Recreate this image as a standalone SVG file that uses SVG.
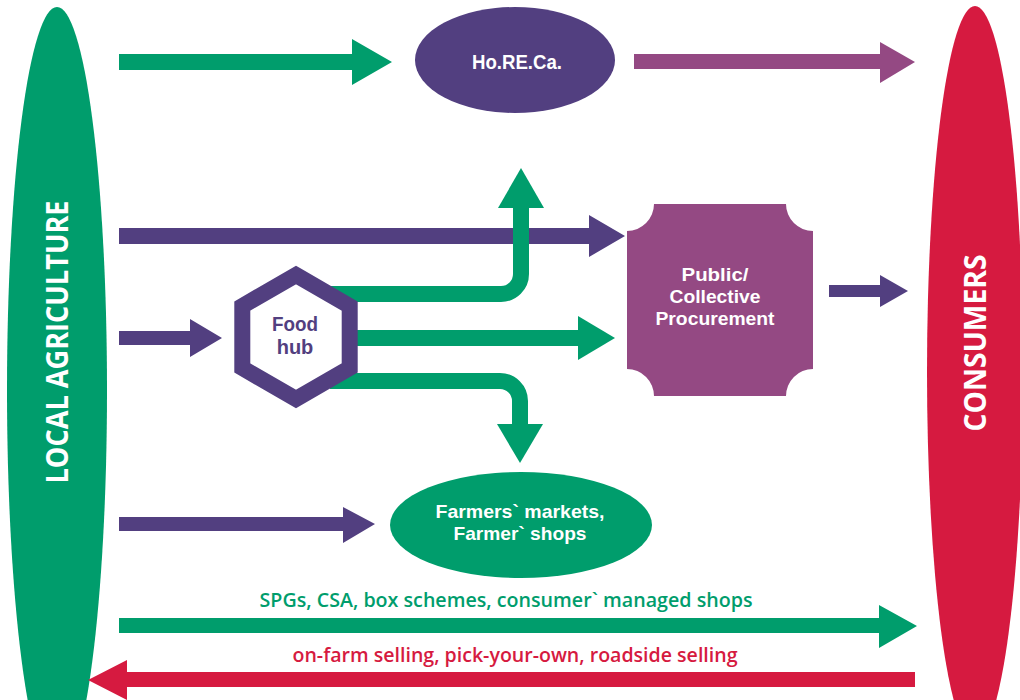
<svg xmlns="http://www.w3.org/2000/svg" width="1020" height="700" viewBox="0 0 1020 700">
<style>
.lbl{font-family:"Liberation Sans","Open Sans",sans-serif;font-weight:700;fill:#fff;text-anchor:middle}
.big{font-family:"Open Sans","Liberation Sans",sans-serif;font-weight:700;fill:#fff;text-anchor:middle;font-size:30px}
.cap{font-family:"Open Sans","Liberation Sans",sans-serif;font-weight:600;text-anchor:middle;font-size:19px}
.g{fill:#009d6c}.p{fill:#523f80}.m{fill:#944983}.r{fill:#d61a40}
.gs{stroke:#009d6c;fill:none;stroke-width:16}
</style>
<rect width="1020" height="700" fill="#fff"/>
<g id="local-agriculture">
<ellipse cx="57" cy="390" rx="50" ry="383" class="g"/>
<text class="big" transform="translate(68,342) rotate(-90)" textLength="283" lengthAdjust="spacingAndGlyphs">LOCAL AGRICULTURE</text>
</g>
<g id="consumers">
<ellipse cx="975" cy="372" rx="48" ry="366" class="r"/>
<text class="big" transform="translate(986,343) rotate(-90)" textLength="177" lengthAdjust="spacingAndGlyphs">CONSUMERS</text>
</g>
<g id="connectors">
<path class="g" d="M119 54H352V39L392 62L352 85V70H119Z"/>
<path class="m" d="M634 54H880V42L915 62L880 83V69H634Z"/>
<path class="p" d="M119 228H589V215L625 236L589 257V244H119Z"/>
<path class="p" d="M829 285H880V275L908 291L880 307V297H829Z"/>
<path class="p" d="M119 331H190V319L222 338L190 357V345H119Z"/>
<path class="p" d="M119 517H343V507L375 524L343 543V531H119Z"/>
<path class="g" d="M119 618H879V605L917 626L879 648V633H119Z"/>
<path class="r" d="M915 672H127V660L88 680L127 700V687H915Z"/>
<path class="gs" d="M330 294H501A20 20 0 0 0 521 274V206"/>
<polygon class="g" points="498,208 544,208 521,168"/>
<path class="gs" d="M330 338H580"/>
<polygon class="g" points="578,316 578,360 615,338"/>
<path class="gs" d="M330 381H500A20 20 0 0 1 520 401V426"/>
<polygon class="g" points="497,424 543,424 520,463"/>
</g>
<g id="horeca">
<ellipse cx="515" cy="60" rx="100" ry="53" class="p"/>
<text class="lbl" x="517" y="69" font-size="20" textLength="90" lengthAdjust="spacingAndGlyphs">Ho.RE.Ca.</text>
</g>
<g id="procurement">
<path class="m" d="M654 204H786A27 27 0 0 0 813 231V369A27 27 0 0 0 786 396H654A27 27 0 0 0 627 369V231A27 27 0 0 0 654 204Z"/>
<text class="lbl" font-size="19"><tspan x="715" y="281" textLength="67" lengthAdjust="spacingAndGlyphs">Public/</tspan><tspan x="715" y="303" textLength="91" lengthAdjust="spacingAndGlyphs">Collective</tspan><tspan x="715" y="325" textLength="119" lengthAdjust="spacingAndGlyphs">Procurement</tspan></text>
</g>
<g id="food-hub">
<polygon points="296,275 349.7,306 349.7,368 296,399 242.3,368 242.3,306" fill="#fff" stroke="#523f80" stroke-width="16"/>
<text class="lbl" font-size="20" style="fill:#523f80"><tspan x="295" y="331" textLength="46" lengthAdjust="spacingAndGlyphs">Food</tspan><tspan x="295" y="354">hub</tspan></text>
</g>
<g id="farmers-markets">
<ellipse cx="521" cy="525" rx="131" ry="53" class="g"/>
<text class="lbl" font-size="19"><tspan x="520" y="518" textLength="169" lengthAdjust="spacingAndGlyphs">Farmers` markets,</tspan><tspan x="520" y="540" textLength="133" lengthAdjust="spacingAndGlyphs">Farmer` shops</tspan></text>
</g>
<g id="labels">
<text class="cap" x="506" y="607" style="fill:#009d6c" textLength="493" lengthAdjust="spacingAndGlyphs">SPGs, CSA, box schemes, consumer` managed shops</text>
<text class="cap" x="515" y="662" style="fill:#d61a40" textLength="445" lengthAdjust="spacingAndGlyphs">on-farm selling, pick-your-own, roadside selling</text>
</g>
</svg>
